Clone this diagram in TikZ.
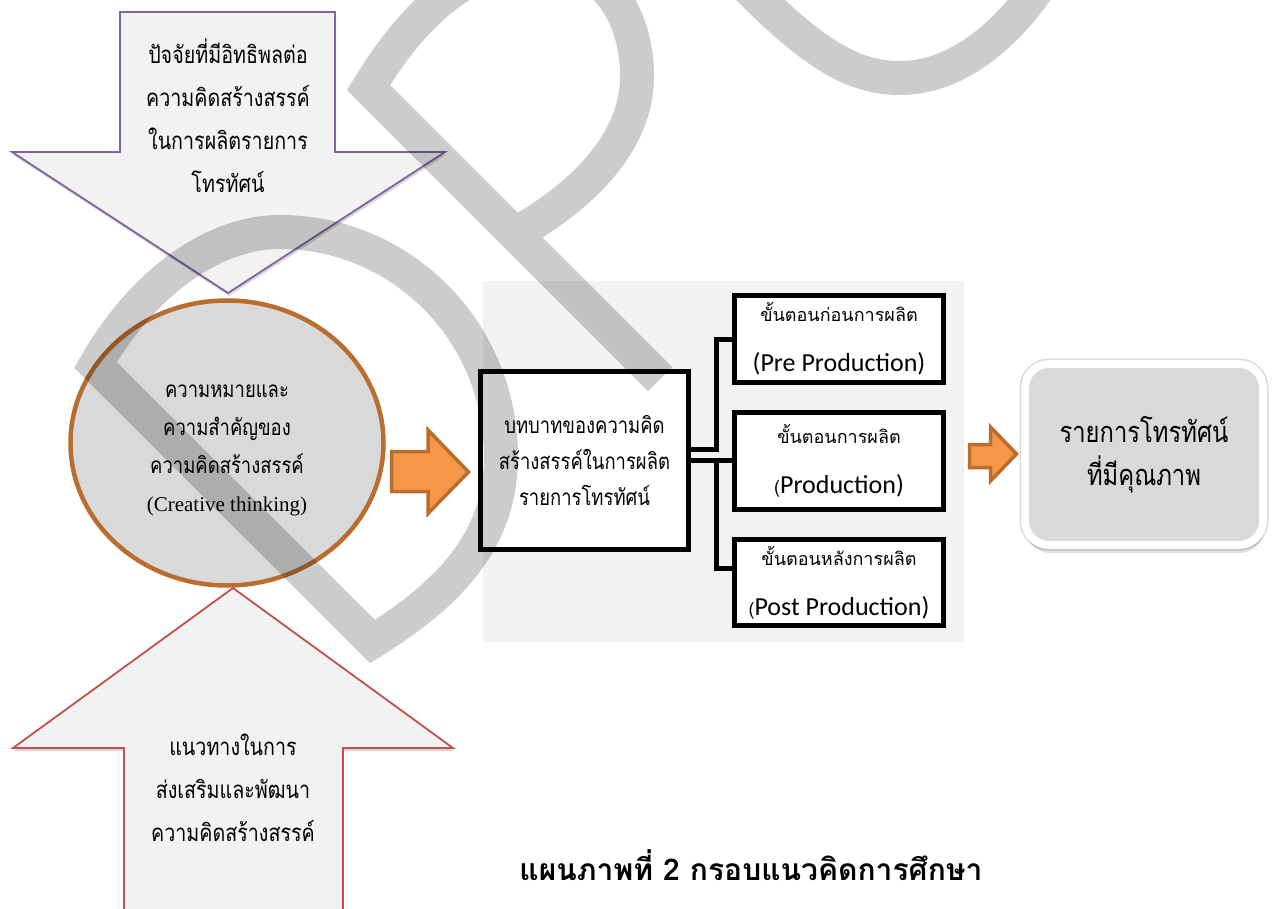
\documentclass[tikz,border=0pt]{standalone}
\usepackage{fontspec}
\setmainfont{Liberation Serif}
\newfontfamily\thaiS[Script=Thai,FakeStretch=0.82]{Loma}
\newfontfamily\thaiN[Script=Thai]{Loma}
\newfontfamily\calib{Carlito}
\usetikzlibrary{shapes.geometric,shadows}
\definecolor{purp}{HTML}{8064A2}
\definecolor{redb}{HTML}{C0504D}
\definecolor{brn}{HTML}{B96D2F}
\definecolor{org}{HTML}{F79646}
\definecolor{lgray}{HTML}{F2F2F2}
\definecolor{mgray}{HTML}{D9D9D9}
\tikzset{
  bigarrow/.style={fill=lgray, line width=1.8pt, line join=miter,
    drop shadow={shadow xshift=1pt, shadow yshift=-3pt, opacity=0.3}},
  blockarrow/.style={fill=org, draw=brn, line width=3.5pt, line join=miter},
  stepbox/.style={draw=black, line width=5pt, fill=white, inner sep=0pt,
    minimum width=209pt, align=center},
  smallbox/.style={stepbox, font=\calib\fontsize{26}{50}\selectfont},
  conn/.style={draw=black, line width=5pt},
  thaiser/.style={font=\thaiS\fontsize{24}{43}\selectfont, align=center},
  wm/.style={draw=black, draw opacity=0.2, line width=34pt, line join=miter, miter limit=10}
}
\newcommand{\thl}[1]{{\thaiN\fontsize{18}{20}\selectfont #1}}
\begin{document}
\begin{tikzpicture}[x=1pt,y=-1pt]
\useasboundingbox (0,0) rectangle (1277,909);
\clip (0,0) rectangle (1277,909);
\fill[white] (0,0) rectangle (1277,909);
% background panel
\fill[lgray] (483,281) rectangle (964,642);
% down arrow
\draw[bigarrow, draw=purp] (120,12) -- (335,12) -- (335,152) -- (445,152) -- (228,293) -- (12,152) -- (120,152) -- cycle;
\node[thaiser] (factors) at (228,116) {ปัจจัยที่มีอิทธิพลต่อ\\ความคิดสร้างสรรค์\\ในการผลิตรายการ\\โทรทัศน์};
% up arrow
\draw[bigarrow, draw=redb] (233,588) -- (453,748) -- (343,748) -- (343,930) -- (124,930) -- (124,748) -- (13,748) -- cycle;
\node[thaiser] (ways) at (233,788) {แนวทางในการ\\ส่งเสริมและพัฒนา\\ความคิดสร้างสรรค์};
% ellipse
\node[ellipse, draw=brn, line width=4.5pt, fill=mgray, minimum width=313pt, minimum height=285pt,
  inner sep=0pt] (meaning) at (227,443) {};
\node[align=center, font=\thaiS\fontsize{22.5}{38}\selectfont] (meaningtext) at (227,450)
  {ความหมายและ\\ความสำคัญของ\\ความคิดสร้างสรรค์\\{\rmfamily\fontsize{21}{34}\selectfont (Creative thinking)}};
% orange arrows
\draw[blockarrow] (391.5,451.5) -- (428,451.5) -- (428,430) -- (468.5,472) -- (428,513.5) -- (428,491.5) -- (391.5,491.5) -- cycle;
\draw[blockarrow] (969.5,444.5) -- (990.5,444.5) -- (990.5,427) -- (1016.5,454) -- (990.5,481) -- (990.5,467.5) -- (969.5,467.5) -- cycle;
% main box
\node[stepbox, minimum width=208pt, minimum height=178pt, font=\thaiS\fontsize{22.5}{36}\selectfont] (role)
  at (584.5,460.5) {บทบาทของความคิด\\สร้างสรรค์ในการผลิต\\รายการโทรทัศน์};
% step boxes
\node[smallbox, minimum height=87pt] (pre) at (839,339) {\thl{ขั้นตอนก่อนการผลิต}\\(Pre Production)};
\node[smallbox, minimum height=97pt] (prod) at (839,461) {\thl{ขั้นตอนการผลิต}\\\thl{(}Production)};
\node[smallbox, minimum height=86pt] (post) at (839,582.5) {\thl{ขั้นตอนหลังการผลิต}\\\thl{(}Post Production)};
% connectors
\draw[conn] ([yshift=11pt]role.east) -- ++(25,0) |- (pre.west);
\draw[conn] (role.east) -- (role.east -| prod.west);
\draw[conn] ([xshift=25pt]role.east) |- ([yshift=14pt]post.west);
% result
\node[fill=mgray, draw=white, line width=8pt, rounded corners=24pt, minimum width=238pt, minimum height=181pt,
  inner sep=0pt, align=center, font=\thaiS\fontsize{29}{43}\selectfont,
  drop shadow={shadow xshift=1pt, shadow yshift=-8pt, opacity=0.25},
  preaction={draw=black, draw opacity=0.15, line width=11pt}] (result) at (1144,454.5)
  {รายการโทรทัศน์\\ที่มีคุณภาพ};
% title
\node[font=\thaiN\bfseries\fontsize{30}{36}\selectfont] (title) at (751,865) {แผนภาพที่ 2 กรอบแนวคิดการศึกษา};
% watermark
\draw[wm] (660,379) -- (368.5,87.5) .. controls (405,28) and (460,-40) .. (545,-38)
   .. controls (600,-37) and (637,10) .. (637,77) .. controls (637,140) and (585,195) .. (515,234)
  (234,503.25) -- (95.5,365) .. controls (140,287) and (210,232) .. (280,232)
   .. controls (400,232) and (501,330) .. (501,457) .. controls (501,540) and (449,594) .. (372.5,641.5) -- cycle
  (745,-15) .. controls (810,50) and (850,78) .. (900,78) .. controls (960,78) and (1010,30) .. (1040,-15);
\end{tikzpicture}
\end{document}
